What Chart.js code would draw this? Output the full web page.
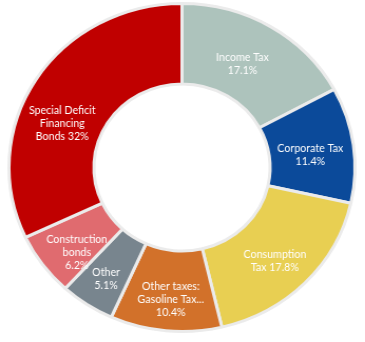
<!DOCTYPE html>
<html>
<head>
<meta charset="utf-8">
<script src="https://cdn.jsdelivr.net/npm/chart.js@4/dist/chart.umd.min.js"></script>
<style>
  html, body { margin: 0; padding: 0; background: #fff; }
  #wrap {
    width: 345px;
    height: 342px;
    transform: scaleX(1.055);
    transform-origin: 0 0;
  }
</style>
</head>
<body>
<div id="wrap"><canvas id="revenue-chart"></canvas></div>
<script>
// Revenue breakdown, clockwise from 12 o'clock
const categories = [
  "Income Tax",
  "Corporate Tax",
  "Consumption Tax",
  "Other taxes: Gasoline Tax...",
  "Other",
  "Construction bonds",
  "Special Deficit Financing Bonds",
];
const shares = [17.1, 11.4, 17.8, 10.4, 5.1, 6.2, 32];

// Label text per slice; the share is appended to the last line
// (an empty last line puts the share on its own line)
const labelLines = [
  ["Income Tax", ""],
  ["Corporate Tax", ""],
  ["Consumption", "Tax"],
  ["Other taxes:", "Gasoline Tax...", ""],
  ["Other", ""],
  ["Construction", "bonds", ""],
  ["Special Deficit", "Financing", "Bonds"],
];

const sliceColors = [
  "#adc3bc",
  "#0b4a9a",
  "#e8cf52",
  "#d2712a",
  "#78858e",
  "#e06b6f",
  "#c00000",
];

// small nudges from the arc midpoint, [dx, dy] in px
const labelNudge = [
  [-6, 3],
  [-1, 4],
  [0, 6],
  [1, 9],
  [-4, 8],
  [0, 11],
  [-9, 22],
];

const sliceLabels = {
  id: "sliceLabels",
  afterDatasetsDraw(chart) {
    const ctx = chart.ctx;
    const meta = chart.getDatasetMeta(0);
    ctx.save();
    ctx.fillStyle = "#ffffff";
    ctx.font = "11.5px Lato";
    ctx.textAlign = "center";
    ctx.textBaseline = "middle";
    const lineH = 13;
    meta.data.forEach((arc, i) => {
      const pct = shares[i] + "%";
      const lines = labelLines[i].slice();
      const last = lines.length - 1;
      lines[last] = lines[last] ? lines[last] + " " + pct : pct;
      const pos = arc.tooltipPosition();
      const x = pos.x + labelNudge[i][0];
      const top = pos.y + labelNudge[i][1] - ((lines.length - 1) * lineH) / 2;
      lines.forEach((txt, j) => {
        // narrow the glyphs a little so the labels sit inside the slices
        ctx.save();
        ctx.translate(x, top + j * lineH);
        ctx.scale(0.88, 1);
        ctx.fillText(txt, 0, 0);
        ctx.restore();
      });
    });
    ctx.restore();
  },
};

document.addEventListener("DOMContentLoaded", () => {
  const ctx = document.getElementById("revenue-chart").getContext("2d");
  new Chart(ctx, {
    type: "doughnut",
    data: {
      labels: categories,
      datasets: [
        {
          data: shares,
          backgroundColor: sliceColors,
          borderColor: "#ebebeb",
          borderWidth: 3,
        },
      ],
    },
    options: {
      responsive: true,
      maintainAspectRatio: false,
      animation: false,
      radius: 164,
      cutout: 83,
      layout: { padding: { top: 3, bottom: 10 } },
      plugins: {
        legend: { display: false },
        tooltip: { enabled: false },
      },
    },
    plugins: [sliceLabels],
  });
});
</script>
</body>
</html>
